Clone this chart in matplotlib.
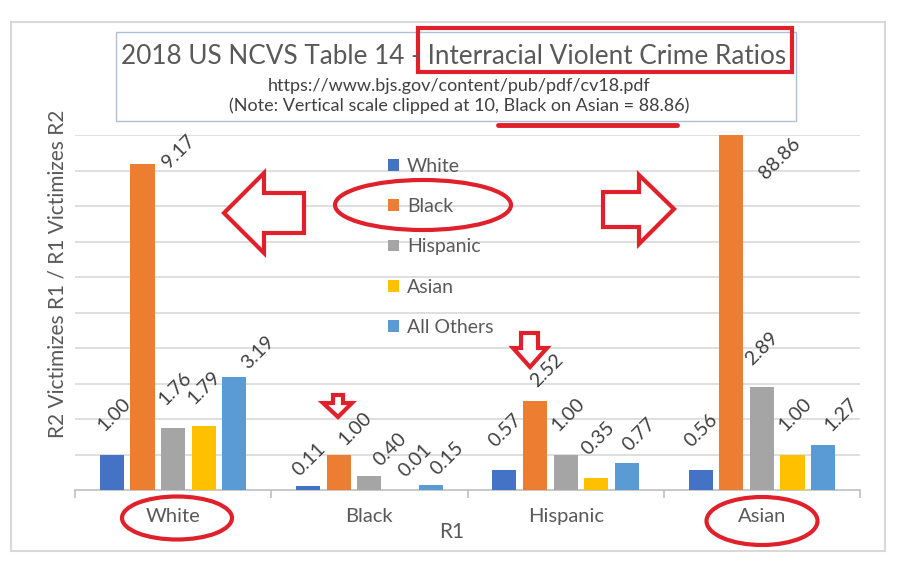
import numpy as np
from matplotlib import pyplot as plt
from matplotlib.patches import Rectangle, Ellipse, Polygon

plt.rcParams['font.family'] = ['Lato', 'DejaVu Sans']

# data
r1_groups = ['White', 'Black', 'Hispanic', 'Asian']
r2_series = ['White', 'Black', 'Hispanic', 'Asian', 'All Others']
ratios = [
    [1.00, 9.17, 1.76, 1.79, 3.19],    # White
    [0.11, 1.00, 0.40, 0.01, 0.15],    # Black
    [0.57, 2.52, 1.00, 0.35, 0.77],    # Hispanic
    [0.56, 88.86, 2.89, 1.00, 1.27],   # Asian
]
labels = [['%.2f' % v for v in row] for row in ratios]
y_clip = 10

colors = ['#4472C4', '#ED7D31', '#A5A5A5', '#FFC000', '#5B9BD5']
red = '#e0202a'
txt = '#595959'

# label nudges in pixels (right, up) relative to the bar centre / top
nudge = [
    [(-7, 22), (26, -5), (-8, 22), (-9, 21), (14, 7)],
    [(-9, 9), (7, 8), (11, 9), (5, 12), (7, 9)],
    [(-9, 22), (2, 13), (-7, 22), (-8, 22), (3, 11)],
    [(-9, 22), (35, -45), (-10, 21), (-7, 22), (8, 13)],
]

fig = plt.figure(figsize=(9, 5.69), dpi=100)
ax = fig.add_axes([75 / 900, 79 / 569, 785 / 900, 355 / 569])

x = np.arange(len(r1_groups))
step = 0.156
width = 0.1224
vals = np.array(ratios)
for j, name in enumerate(r2_series):
    xs = x + (j - 2) * step
    ax.bar(xs, vals[:, j], width, color=colors[j], label=name, zorder=3)
    for i in range(len(r1_groups)):
        dx, dy = nudge[i][j]
        ax.annotate(labels[i][j], (xs[i], min(vals[i, j], y_clip)),
                    xytext=(dx * 0.72, dy * 0.72), textcoords='offset points',
                    rotation=45, rotation_mode='anchor', ha='left', va='baseline',
                    fontsize=14, color='#404040', annotation_clip=False, zorder=4)

ax.set_xlim(-0.5, 3.5)
ax.set_ylim(0, y_clip)
ax.set_yticks(np.arange(1, 11))
ax.yaxis.grid(True, color='#d9d9d9', lw=1.2)
ax.set_axisbelow(True)
ax.tick_params(axis='y', length=0, labelleft=False)
ax.set_xticks(x)
ax.set_xticklabels(r1_groups, fontsize=14.5, color=txt)
ax.set_xticks(np.arange(-0.5, 4, 1), minor=True)
ax.tick_params(axis='x', which='major', length=0, pad=13)
ax.tick_params(axis='x', which='minor', length=6, color='#bfbfbf', width=1.2)
for s in ['top', 'right', 'left']:
    ax.spines[s].set_visible(False)
ax.spines['bottom'].set_color('#bfbfbf')
ax.spines['bottom'].set_linewidth(1.2)
ax.set_xlabel('R1', fontsize=15, color=txt)
ax.xaxis.set_label_coords(0.48, -0.09)
ax.set_ylabel('R2 Victimizes R1 / R1 Victimizes R2', fontsize=15, color=txt)
ax.yaxis.set_label_coords(-0.009, 0.61)

leg = ax.legend(loc='upper left', bbox_to_anchor=(0.377, 0.985), frameon=False,
                fontsize=14, labelcolor=txt, handlelength=0.55, handleheight=0.55,
                handletextpad=0.4, labelspacing=1.2)

# overlay in pixel coordinates for the frame, title box and red markup
ov = fig.add_axes([0, 0, 1, 1], zorder=10)
ov.set_xlim(0, 900)
ov.set_ylim(569, 0)
ov.axis('off')
ov.patch.set_alpha(0)

ov.add_patch(Rectangle((11, 22), 874, 529, fill=False, ec='#d9d9d9', lw=1.5))
ov.add_patch(Rectangle((116, 32), 680, 89, fill=False, ec='#aebfd3', lw=1))
ov.text(454, 56, '2018 US NCVS Table 14 - Interracial Violent Crime Ratios',
        ha='center', va='center', fontsize=18.8, color=txt)
ov.text(459, 86, 'https://www.bjs.gov/content/pub/pdf/cv18.pdf',
        ha='center', va='center', fontsize=13, color='#404040')
ov.text(459, 106, '(Note: Vertical scale clipped at 10, Black on Asian = 88.86)',
        ha='center', va='center', fontsize=13, color='#404040')

ov.add_patch(Rectangle((418, 28), 374, 44, fill=False, ec=red, lw=3))
ov.plot([498, 677], [125, 125], color=red, lw=3.5, solid_capstyle='round')

ov.add_patch(Ellipse((423, 205), 176, 50, fill=False, ec=red, lw=3))
ov.add_patch(Ellipse((177, 518), 110, 43, fill=False, ec=red, lw=3))
ov.add_patch(Ellipse((762, 521), 111, 48, fill=False, ec=red, lw=3))

left_arrow = [(224, 213), (264, 173), (264, 193), (304, 193), (304, 233),
              (264, 233), (264, 253)]
right_arrow = [(674, 209), (639, 175), (639, 192), (603, 192), (603, 227),
               (639, 227), (639, 244)]
down_black = [(338, 417), (323, 403), (333, 403), (333, 395), (343, 395),
              (343, 403), (352, 403)]
down_hisp = [(530, 367), (513, 348), (521, 348), (521, 333), (538, 333),
             (538, 348), (547, 348)]
for pts in [left_arrow, right_arrow, down_black, down_hisp]:
    ov.add_patch(Polygon(pts, closed=True, fc='white', ec=red, lw=3, joinstyle='miter'))

fig.savefig('out.png', dpi=100)
